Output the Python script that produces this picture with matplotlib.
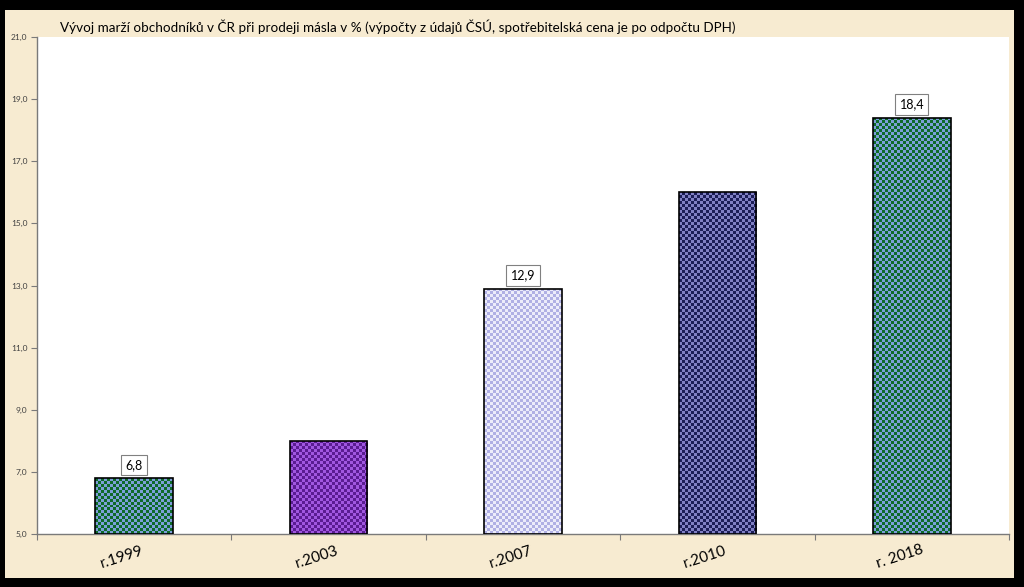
import numpy as np
import matplotlib
matplotlib.use("Agg")
import matplotlib.pyplot as plt
import matplotlib.transforms as mtransforms
from matplotlib.patches import Rectangle
from matplotlib.colors import to_rgb

categories = ["r.1999", "r.2003", "r.2007", "r.2010", "r. 2018"]
values = [6.8, 8.0, 12.9, 16.0, 18.4]
show_label = [True, False, True, False, True]
y_ticks = [5.0, 7.0, 9.0, 11.0, 13.0, 15.0, 17.0, 19.0, 21.0]
title = "Vývoj marží obchodníků v ČR při prodeji másla v % (výpočty z údajů ČSÚ, spotřebitelská cena je po odpočtu DPH)"

pattern_colors = [
    ("#0e6a2a", "#7c9fd8"),
    ("#5a1c92", "#a057e0"),
    ("#b0b0e4", "#ececfa"),
    ("#1c1e58", "#8080c4"),
    ("#0e6a2a", "#7c9fd8"),
]

FONT = "Lato"
W, H = 1024, 587
fig = plt.figure(figsize=(W / 100, H / 100), dpi=100)
fig.patch.set_facecolor("black")
fig.patches.append(Rectangle((5 / W, 9 / H), (1014 - 5) / W, (582 - 9 - 5) / H,
                             transform=fig.transFigure, facecolor="#f7ebd1",
                             edgecolor="none", zorder=-10))

ax = fig.add_axes([37 / W, 53 / H, 972 / W, 497 / H])
ax.set_facecolor("white")
ax.set_xlim(-0.5, len(categories) - 0.5)
ax.set_ylim(5.0, 21.0)

x = np.arange(len(categories))
bar_w = 0.4
bars = ax.bar(x, np.array(values) - 5.0, bottom=5.0, width=bar_w,
              facecolor="none", edgecolor="black", linewidth=1.2, zorder=3)

# checkerboard texture inside each bar
fig.canvas.draw()
cell_px = 3.0
for b, (c1, c2) in zip(bars, pattern_colors):
    x0, y0 = b.get_x(), b.get_y()
    x1, y1 = x0 + b.get_width(), y0 + b.get_height()
    p0 = ax.transData.transform((x0, y0))
    p1 = ax.transData.transform((x1, y1))
    nx = max(1, int(round(abs(p1[0] - p0[0]) / cell_px)))
    ny = max(1, int(round(abs(p1[1] - p0[1]) / cell_px)))
    ii, jj = np.indices((ny, nx))
    mask = (ii + jj) % 2 == 0
    img = np.zeros((ny, nx, 3))
    img[mask] = to_rgb(c1)
    img[~mask] = to_rgb(c2)
    im = ax.imshow(img, extent=(x0, x1, y0, y1), origin="lower",
                   interpolation="nearest", aspect="auto", zorder=2)
    im.set_clip_path(b)

ax.set_xlim(-0.5, len(categories) - 0.5)
ax.set_ylim(5.0, 21.0)

# data labels
for xi, v, s in zip(x, values, show_label):
    if s:
        ax.annotate(f"{v:.1f}".replace(".", ","), (xi, v), xytext=(0, 9.5),
                    textcoords="offset points", ha="center", va="center",
                    fontsize=9, family=FONT, color="black",
                    bbox=dict(boxstyle="square,pad=0.35", facecolor="white",
                              edgecolor="#808080", linewidth=0.8), zorder=5)

# axes styling
for sp in ["top", "right"]:
    ax.spines[sp].set_visible(False)
for sp in ["left", "bottom"]:
    ax.spines[sp].set_color("#7a7a7a")
    ax.spines[sp].set_linewidth(1.0)

ax.set_yticks(y_ticks)
ax.set_yticklabels([f"{t:.1f}".replace(".", ",") for t in y_ticks],
                   fontsize=6, family=FONT, color="#404040")
ax.tick_params(axis="y", direction="out", length=4, color="#7a7a7a", pad=3)

ax.set_xticks(np.arange(len(categories) + 1) - 0.5)
ax.set_xticklabels([])
ax.tick_params(axis="x", direction="out", length=4, color="#7a7a7a")
lbl_off = mtransforms.ScaledTranslation(-12 / 100, -23 / 100, fig.dpi_scale_trans)
for xi, c in zip(x, categories):
    ax.text(xi, 0, c, transform=ax.get_xaxis_transform() + lbl_off,
            ha="center", va="center", rotation=18, fontsize=11, family=FONT,
            color="black")

fig.text(60 / W, 1 - 27 / H, title, ha="left", va="center", fontsize=9.7,
         family=FONT, color="black")

fig.savefig("out.png", dpi=100, facecolor=fig.get_facecolor())
